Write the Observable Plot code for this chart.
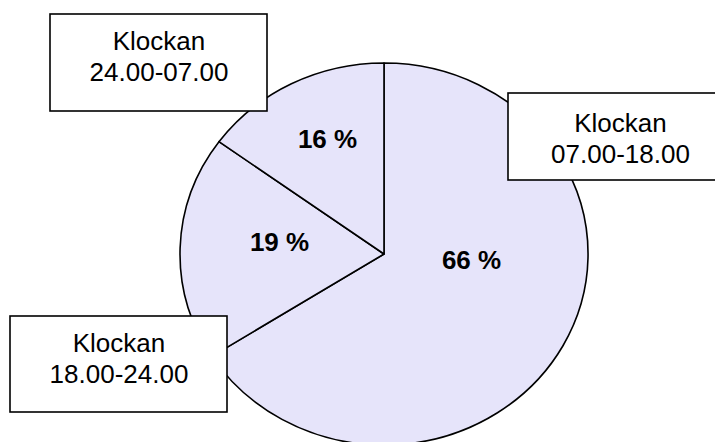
<!DOCTYPE html>
<html>
<head>
<meta charset="utf-8">
<script src="https://cdn.jsdelivr.net/npm/d3@7"></script>
<script src="https://cdn.jsdelivr.net/npm/@observablehq/plot@0.6"></script>
<style>
  html, body { margin: 0; padding: 0; overflow: hidden; background: #fff; }
  #chart svg { display: block; }
</style>
</head>
<body>
<div id="chart"></div>
<script>
// ---- data ----
const periods = ["07.00-18.00", "18.00-24.00", "24.00-07.00"];
const shares = [66, 19, 16];
const shareLabels = ["66 %", "19 %", "16 %"];
const boxTitle = "Klockan";

// ---- layout (pixel positions of the hand-placed labels) ----
const W = 715, H = 442;
const pieCenter = {x: 384, y: 254};
const pieRadius = {x: 204, y: 191};
const boxLayout = [
  {x1: 508, x2: 740, y1: 93, y2: 180, tx: 620, ty: 162},
  {x1: 10, x2: 227, y1: 316, y2: 412, tx: 118.5, ty: 382},
  {x1: 50, x2: 267, y1: 14, y2: 111, tx: 158.5, ty: 80}
];
const pctLayout = [
  {x: 471, y: 268},
  {x: 279, y: 250},
  {x: 327, y: 147}
];

const boxes = periods.map((p, i) => ({text: boxTitle + "\n" + p, ...boxLayout[i]}));
const pcts = shareLabels.map((t, i) => ({text: t, ...pctLayout[i]}));

// pie slices (angles from 12 o'clock, clockwise; shares are in percent)
let acc = 0;
const slices = shares.map((v, i) => {
  const a0 = acc / 100 * 2 * Math.PI;
  acc += v;
  const a1 = Math.min(acc / 100, 1) * 2 * Math.PI;
  return {period: periods[i], startAngle: a0, endAngle: a1};
});

function pieMark(index, scales) {
  const {x, y} = scales;
  const cx = x(pieCenter.x), cy = y(pieCenter.y);
  const rx = x(pieCenter.x + pieRadius.x) - cx;
  const ry = y(pieCenter.y + pieRadius.y) - cy;
  const arc = d3.arc().innerRadius(0).outerRadius(1);
  const g = d3.create("svg:g")
    .attr("transform", `translate(${cx},${cy}) scale(${rx},${ry})`);
  g.selectAll("path").data(slices).join("path")
    .attr("d", arc)
    .attr("fill", "#e6e4fa")
    .attr("stroke", "#000")
    .attr("stroke-width", 1.6)
    .attr("stroke-linejoin", "round")
    .attr("vector-effect", "non-scaling-stroke");
  return g.node();
}

const chart = Plot.plot({
  width: W,
  height: H,
  margin: 0,
  style: {fontFamily: "'Liberation Sans', Arial, sans-serif", background: "#fff", overflow: "hidden"},
  x: {domain: [0, W], range: [0, W], axis: null},
  y: {domain: [0, H], range: [0, H], axis: null},
  marks: [
    pieMark,
    Plot.rect(boxes, {x1: "x1", x2: "x2", y1: "y1", y2: "y2", fill: "#fff", stroke: "#000", strokeWidth: 1.6}),
    Plot.text(boxes, {x: "tx", y: "ty", text: "text", fontSize: 26, lineHeight: 1.16, lineAnchor: "bottom", textAnchor: "middle", fill: "#000"}),
    Plot.text(pcts, {x: "x", y: "y", text: "text", fontSize: 26, fontWeight: "bold", lineAnchor: "bottom", textAnchor: "middle", fill: "#000"})
  ]
});
document.getElementById("chart").append(chart);
</script>
</body>
</html>
